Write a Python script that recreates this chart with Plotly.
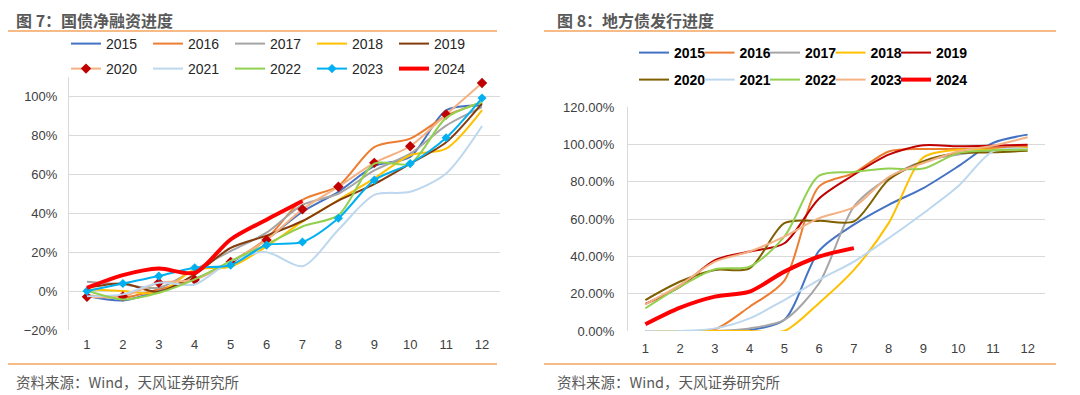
import plotly.graph_objects as go

# page body has an 8px margin; size figure to fill the remaining window
OX, OY = 8, 8
W, H = 1080 - OX, 395 - OY

months = list(range(1, 13))
years = ["2015", "2016", "2017", "2018", "2019", "2020", "2021", "2022", "2023", "2024"]

# Left chart: 国债净融资进度 (%)
L2015 = [-2.5, -4.8, 0.0, 6.3, 14.5, 26.5, 40.8, 51.0, 64.2, 69.0, 92.8, 95.3]
L2016 = [-2.2, -3.4, 0.9, 6.0, 15.0, 27.0, 46.8, 54.0, 74.0, 78.3, 90.0, 97.0]
L2017 = [4.8, 3.4, 1.7, 11.0, 20.5, 30.0, 44.3, 50.0, 62.0, 70.6, 85.0, 94.5]
L2018 = [0.9, 0.0, -0.9, 11.0, 12.5, 23.0, 35.7, 46.8, 57.9, 69.8, 73.2, 93.0]
L2019 = [1.7, 3.9, -0.3, 8.5, 22.2, 28.5, 36.0, 46.5, 55.0, 65.5, 76.5, 96.5]
L2020 = [-2.9, -2.7, 4.3, 5.8, 15.0, 26.3, 42.0, 53.6, 65.9, 74.4, 90.7, 106.9]
L2021 = [-2.6, -1.7, 4.3, 3.4, 15.4, 20.0, 12.8, 31.5, 49.4, 51.0, 60.4, 84.8]
L2022 = [0.3, -4.3, -0.9, 6.0, 15.4, 24.0, 33.2, 39.0, 65.5, 65.5, 89.0, 97.0]
L2023 = [0.0, 3.9, 7.7, 12.0, 13.3, 23.6, 25.2, 37.4, 57.0, 65.5, 78.8, 99.2]
L2024 = [1.7, 8.2, 11.6, 9.4, 26.5, 36.7, 46.3]

# Right chart: 地方债发行进度 (%)
R2015 = [0, 0, 0, 0.5, 6.0, 43.0, 57.0, 67.6, 76.6, 88.2, 100.7, 105.2]
R2016 = [0, 0, 0.9, 13.0, 27.0, 77.5, 84.6, 96.2, 97.5, 97.5, 98.0, 99.0]
R2017 = [0, 0, 0, 1.4, 5.9, 25.6, 66.6, 82.0, 90.9, 94.5, 97.1, 98.0]
R2018 = [0, 0, 0, 0, 0, 15.0, 32.7, 57.8, 93.0, 97.1, 97.1, 98.0]
R2019 = [14.5, 23.8, 38.0, 42.6, 47.0, 71.0, 83.7, 94.5, 99.5, 99.0, 99.3, 99.8]
R2020 = [16.6, 26.5, 32.7, 33.6, 57.8, 59.0, 58.7, 81.0, 90.9, 95.3, 95.7, 96.6]
R2021 = [0, 0, 1.4, 6.8, 16.6, 27.4, 37.2, 49.7, 63.1, 77.5, 96.2, 97.5]
R2022 = [12.2, 23.8, 33.1, 34.5, 50.6, 83.2, 85.2, 87.0, 87.0, 95.3, 96.8, 97.1]
R2023 = [14.3, 24.7, 37.2, 42.6, 50.6, 60.5, 66.4, 82.5, 90.0, 96.2, 99.3, 103.8]
R2024 = [3.6, 12.5, 18.4, 21.1, 31.8, 39.9, 44.4]

left_series = [L2015, L2016, L2017, L2018, L2019, L2020, L2021, L2022, L2023, L2024]
right_series = [R2015, R2016, R2017, R2018, R2019, R2020, R2021, R2022, R2023, R2024]

left_colors = ["#4472C4", "#ED7D31", "#A5A5A5", "#FFC000", "#843C0C",
               "#F4B183", "#BDD7EE", "#92D050", "#00B0F0", "#FF0000"]
right_colors = ["#4472C4", "#ED7D31", "#A5A5A5", "#FFC000", "#C00000",
                "#7F6000", "#BDD7EE", "#92D050", "#F4B183", "#FF0000"]

fig = go.Figure()

for i, (yr, vals) in enumerate(zip(years, left_series)):
    width = 4 if yr == "2024" else 2
    kw = dict(mode="lines")
    if yr == "2020":
        kw = dict(mode="lines+markers",
                  marker=dict(symbol="diamond", size=8, color="#C00000"))
    elif yr == "2023":
        kw = dict(mode="lines+markers",
                  marker=dict(symbol="diamond", size=7, color="#00B0F0"))
    fig.add_trace(go.Scatter(
        x=months[:len(vals)], y=vals, name=yr,
        line=dict(color=left_colors[i], width=width, shape="spline", smoothing=0.8),
        xaxis="x", yaxis="y",
        legend="legend" if i < 5 else "legend2",
        legendwidth=45 if i in (4, 9) else None, **kw))

for i, (yr, vals) in enumerate(zip(years, right_series)):
    width = 4 if yr == "2024" else 2
    fig.add_trace(go.Scatter(
        x=months[:len(vals)], y=vals, name=yr, mode="lines",
        line=dict(color=right_colors[i], width=width, shape="spline", smoothing=0.8),
        xaxis="x2", yaxis="y2",
        legend="legend3" if i < 5 else "legend4",
        legendwidth=36 if i in (4, 9) else None))

tick_font = dict(family="Arial, Liberation Sans, sans-serif", size=13, color="#404040")
grid = "#D9D9D9"

def pxX(px):
    return (px - OX) / W

def pxY(py):
    return 1 - (py - OY) / H

leg_common = dict(orientation="h", bgcolor="rgba(0,0,0,0)", xanchor="left",
                  yanchor="middle", itemwidth=30, tracegroupgap=0,
                  traceorder="normal")
lfont = dict(family="Arial, Liberation Sans, sans-serif", size=14, color="#262626")
rfont = dict(family="Arial, Liberation Sans, sans-serif", size=14, color="#000000",
             weight="bold")

fig.update_layout(
    width=W, height=H,
    margin=dict(l=0, r=0, t=0, b=0, autoexpand=False),
    paper_bgcolor="white", plot_bgcolor="white",
    xaxis=dict(domain=[pxX(69), pxX(500)], range=[0.5, 12.5], tickvals=months,
               showgrid=False, zeroline=False, showline=False, tickfont=tick_font,
               ticks="", anchor="y", automargin=False, ticklabelstandoff=5),
    yaxis=dict(domain=[pxY(330), pxY(77)], range=[-20, 110], tick0=-20, dtick=20,
               ticksuffix="%", showgrid=True, gridcolor=grid, gridwidth=1,
               zeroline=False, showline=True, linecolor=grid, linewidth=1,
               tickfont=tick_font, ticks="", ticklabelstandoff=8, anchor="x",
               automargin=False),
    xaxis2=dict(domain=[pxX(628), pxX(1045)], range=[0.5, 12.5], tickvals=months,
                showgrid=False, zeroline=False, showline=False, tickfont=tick_font,
                ticks="", anchor="y2", automargin=False, ticklabelstandoff=8),
    yaxis2=dict(domain=[pxY(331), pxY(107)], range=[0, 120], tick0=0, dtick=20,
                tickformat=".2f", ticksuffix="%", showgrid=True, gridcolor=grid,
                gridwidth=1, zeroline=False, showline=True, linecolor=grid,
                linewidth=1, tickfont=tick_font, ticks="", ticklabelstandoff=10,
                anchor="x2", automargin=False),
    legend=dict(x=pxX(66), y=pxY(44), font=lfont, entrywidth=37, **leg_common),
    legend2=dict(x=pxX(66), y=pxY(69), font=lfont, entrywidth=37, **leg_common),
    legend3=dict(x=pxX(634), y=pxY(53), font=rfont, entrywidth=20.5, **leg_common),
    legend4=dict(x=pxX(634), y=pxY(80), font=rfont, entrywidth=20.5, **leg_common),
    showlegend=True,
)

orange = "#F4A460"
shapes = []
for x0, x1 in [(8, 497), (544, 1056)]:
    for y in (31, 364):
        shapes.append(dict(type="line", xref="paper", yref="paper",
                           x0=pxX(x0), x1=pxX(x1), y0=pxY(y), y1=pxY(y),
                           line=dict(color=orange, width=1.5)))
fig.update_layout(shapes=shapes)

title_font = dict(family="Noto Sans CJK SC, sans-serif", size=16, color="#595959",
                  weight="bold")
src_font = dict(family="Noto Sans CJK SC, sans-serif", size=14.5, color="#595959")
ann = [
    dict(text="图 7：国债净融资进度", x=pxX(14), y=pxY(20), font=title_font),
    dict(text="图 8：地方债发行进度", x=pxX(555), y=pxY(20), font=title_font),
    dict(text="资料来源：Wind，天风证券研究所", x=pxX(14), y=pxY(381), font=src_font),
    dict(text="资料来源：Wind，天风证券研究所", x=pxX(555), y=pxY(381), font=src_font),
]
for a in ann:
    a.update(xref="paper", yref="paper", xanchor="left", yanchor="middle",
             showarrow=False)
fig.update_layout(annotations=ann)

fig.write_html("out.html")
